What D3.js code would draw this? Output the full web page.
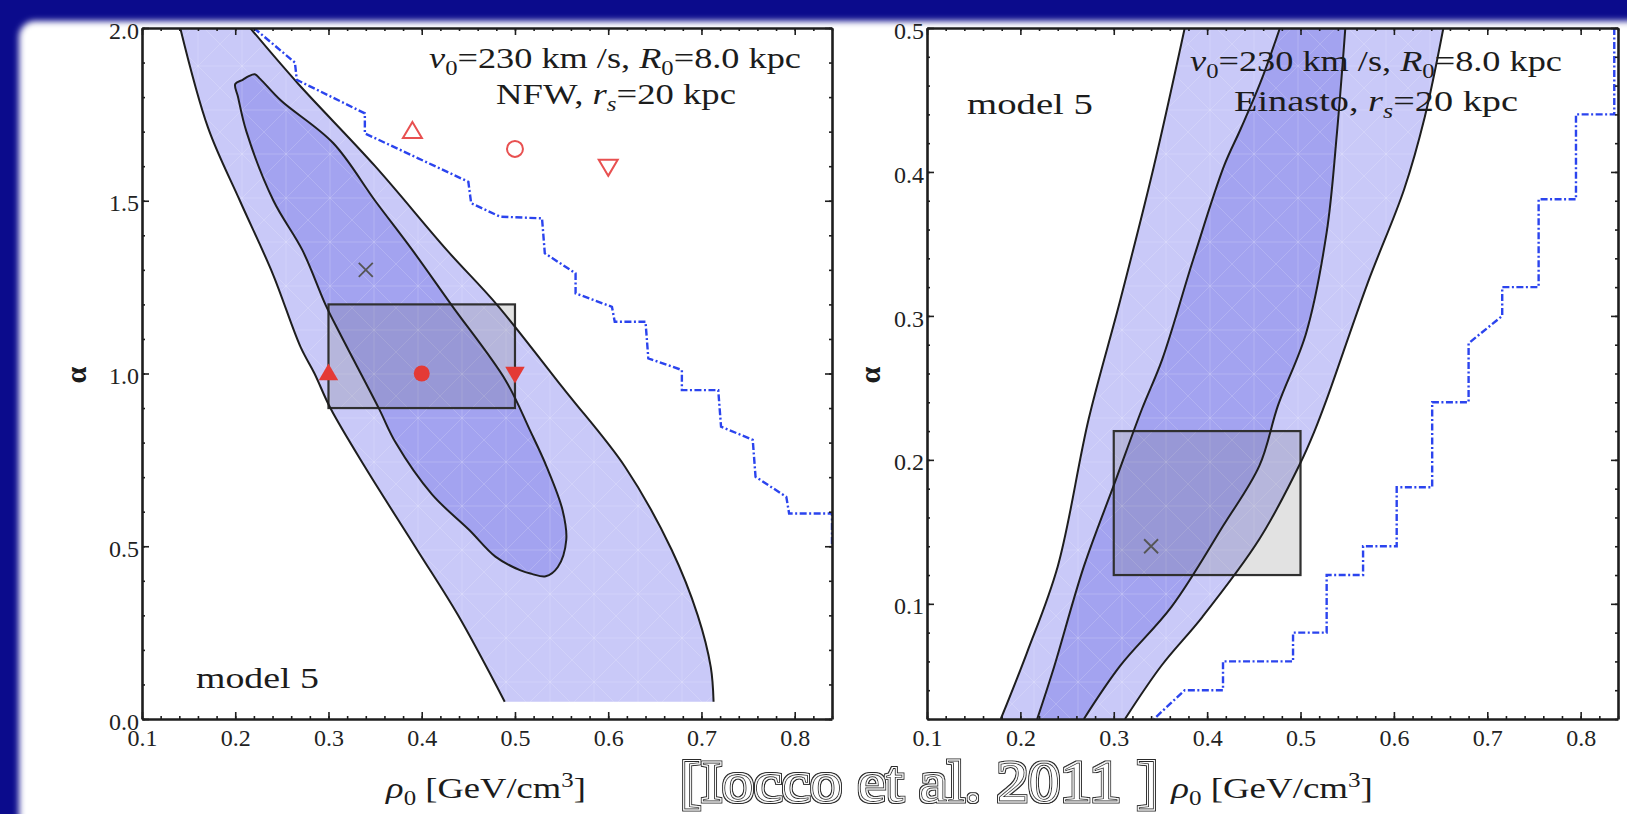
<!DOCTYPE html>
<html>
<head>
<meta charset="utf-8">
<script src="https://cdn.jsdelivr.net/npm/d3@7"></script>
<style>
  html, body { margin: 0; padding: 0; background: #0b0b8c; }
  svg { display: block; }
</style>
</head>
<body>
<svg id="chart" width="1627" height="814"></svg>
<script>
// ---------------- data ----------------
const xTicks = [0.1, 0.2, 0.3, 0.4, 0.5, 0.6, 0.7, 0.8];
const yTicksNFW = [0.0, 0.5, 1.0, 1.5, 2.0];
const yTicksEin = [0.1, 0.2, 0.3, 0.4, 0.5];

// NFW panel: 2-sigma region, left and right edges (rho0, alpha), top to bottom
const nfwOuterLeft = [[0.141,2.0],[0.171,1.71],[0.205,1.50],[0.240,1.29],[0.270,1.077],[0.285,1.0],
  [0.302,0.90],[0.339,0.73],[0.395,0.49],[0.439,0.30],[0.489,0.05]];
const nfwOuterRight = [[0.216,2.0],[0.267,1.84],[0.350,1.60],[0.427,1.357],[0.481,1.198],[0.548,0.97],
  [0.562,0.923],[0.618,0.73],[0.668,0.49],[0.696,0.30],[0.710,0.15],[0.713,0.05]];
// NFW panel: 1-sigma region (closed)
const nfwInner = [[0.214,1.860],[0.221,1.866],[0.227,1.852],[0.249,1.79],[0.305,1.667],[0.350,1.50],
  [0.390,1.357],[0.432,1.198],[0.490,0.98],[0.516,0.836],[0.534,0.73],[0.551,0.605],[0.555,0.518],
  [0.546,0.44],[0.533,0.413],[0.518,0.42],[0.506,0.43],[0.479,0.47],[0.451,0.547],[0.411,0.65],
  [0.372,0.80],[0.354,0.899],[0.312,1.117],[0.297,1.198],[0.272,1.357],[0.241,1.50],[0.212,1.70],
  [0.203,1.80],[0.200,1.838],[0.208,1.850]];
// NFW panel: dash-dot bound
const nfwBound = [[0.22,2.0],[0.264,1.90],[0.266,1.85],[0.339,1.753],[0.339,1.695],[0.450,1.555],
  [0.453,1.493],[0.484,1.454],[0.529,1.449],[0.532,1.348],[0.565,1.29],[0.565,1.232],[0.604,1.193],
  [0.607,1.15],[0.640,1.15],[0.643,1.044],[0.679,1.01],[0.679,0.952],[0.718,0.952],[0.721,0.846],
  [0.755,0.808],[0.758,0.701],[0.791,0.643],[0.794,0.595],[0.84,0.595],[0.84,0.5]];
const nfwBest = [0.34, 1.3];
const nfwBoxRho = [0.3, 0.5];
const nfwBoxAlpha = [0.9, 1.2];
const markersFilled = [[0.3, 1.0, "up"], [0.4, 1.0, "circle"], [0.5, 1.0, "down"]];
const markersOpen = [[0.39, 1.7, "up"], [0.5, 1.65, "circle"], [0.6, 1.6, "down"]];

// Einasto panel: contour edges (rho0, alpha), top to bottom
const einOuterLeft = [[0.376,0.5],[0.343,0.404],[0.307,0.311],[0.273,0.228],[0.240,0.126],
  [0.207,0.066],[0.179,0.02]];
const einInnerLeft = [[0.478,0.5],[0.457,0.462],[0.436,0.43],[0.418,0.404],[0.385,0.339],[0.352,0.27],
  [0.330,0.235],[0.301,0.184],[0.268,0.126],[0.236,0.056],[0.218,0.02]];
const einInnerRight = [[0.548,0.5],[0.539,0.427],[0.528,0.358],[0.506,0.288],[0.476,0.238],
  [0.456,0.196],[0.417,0.154],[0.362,0.098],[0.307,0.057],[0.268,0.02]];
const einOuterRight = [[0.653,0.5],[0.633,0.438],[0.611,0.388],[0.572,0.323],[0.528,0.242],
  [0.515,0.22],[0.500,0.198],[0.456,0.145],[0.395,0.091],[0.351,0.057],[0.312,0.02]];
const einBound = [[0.836,0.5],[0.836,0.44],[0.795,0.44],[0.795,0.381],[0.755,0.381],[0.755,0.32],
  [0.716,0.32],[0.716,0.30],[0.680,0.281],[0.680,0.24],[0.641,0.24],[0.641,0.181],[0.603,0.181],
  [0.603,0.14],[0.567,0.14],[0.567,0.12],[0.528,0.12],[0.528,0.08],[0.492,0.08],[0.492,0.06],
  [0.417,0.06],[0.417,0.04],[0.376,0.04],[0.343,0.02]];
const einBest = [0.34, 0.14];
const einBoxRho = [0.3, 0.5];
const einBoxAlpha = [0.12, 0.22];

// ---------------- style ----------------
const W = 1627, H = 814;
const FONT = "'Liberation Serif', 'Times New Roman', serif";
const C_LIGHT = "#c9c9f8", C_DARK = "#a3a3f0", C_LINE = "#1e1e1e";
const C_BOUND = "#2b44ee", C_RED = "#e43a36";

const svg = d3.select("#chart");
const defs = svg.append("defs");
defs.append("filter").attr("id", "soft").attr("x", -0.05).attr("y", -0.05).attr("width", 1.1).attr("height", 1.1)
  .append("feGaussianBlur").attr("stdDeviation", 3);
// faint plotting mesh seen inside the shaded regions
const mesh = defs.append("pattern").attr("id", "mesh").attr("patternUnits", "userSpaceOnUse")
  .attr("width", 44).attr("height", 44);
mesh.append("path").attr("d", "M0,0L44,44M44,0L0,44M22,0V44M0,22H44")
  .attr("stroke", "#ffffff").attr("stroke-width", 1).attr("stroke-opacity", 0.16).attr("fill", "none");
// double-outline lettering for the citation
const eng = defs.append("filter").attr("id", "engrave").attr("x", -0.05).attr("y", -0.2)
  .attr("width", 1.1).attr("height", 1.4);
eng.append("feMorphology").attr("in", "SourceAlpha").attr("operator", "dilate").attr("radius", 1.9).attr("result", "d1");
eng.append("feFlood").attr("flood-color", "#2a2a2a").attr("result", "dark");
eng.append("feComposite").attr("in", "dark").attr("in2", "d1").attr("operator", "in").attr("result", "outer");
eng.append("feMorphology").attr("in", "SourceAlpha").attr("operator", "dilate").attr("radius", 1.15).attr("result", "d2");
eng.append("feFlood").attr("flood-color", "#ffffff").attr("result", "white");
eng.append("feComposite").attr("in", "white").attr("in2", "d2").attr("operator", "in").attr("result", "ring");
const engMerge = eng.append("feMerge");
["outer", "ring", "SourceGraphic"].forEach(n => engMerge.append("feMergeNode").attr("in", n));

// slide background
svg.append("rect").attr("width", W).attr("height", H).attr("fill", "#0b0b8c");
svg.append("rect").attr("x", 19).attr("y", 21).attr("width", W + 40).attr("height", H + 40)
  .attr("rx", 16).attr("fill", "#ffffff").attr("filter", "url(#soft)");

// custom marker shapes
const triUp = { draw(c, s) { const w = Math.sqrt(s), h = w * 0.85;
  c.moveTo(0, -h * 0.6); c.lineTo(w / 2, h * 0.4); c.lineTo(-w / 2, h * 0.4); c.closePath(); } };
const triDown = { draw(c, s) { const w = Math.sqrt(s), h = w * 0.85;
  c.moveTo(0, h * 0.6); c.lineTo(w / 2, -h * 0.4); c.lineTo(-w / 2, -h * 0.4); c.closePath(); } };
const shapeOf = k => k === "up" ? triUp : k === "down" ? triDown : d3.symbolCircle;

// text with italic / sub / sup runs; optionally stretched horizontally to a width
function richText(g, x, y, parts, size, anchor, width) {
  const t = g.append("text").attr("x", x).attr("y", y).attr("text-anchor", anchor || "middle")
    .attr("font-family", FONT).attr("font-size", size).attr("fill", "#1c1c1c");
  let shift = 0;
  parts.forEach(p => {
    const ts = t.append("tspan").text(p.t);
    if (p.i) ts.attr("font-style", "italic");
    if (p.b) ts.attr("font-weight", "bold");
    const target = p.sub ? size * 0.24 : p.sup ? -size * 0.38 : 0;
    if (target !== shift) { ts.attr("dy", target - shift); shift = target; }
    if (p.sub || p.sup) ts.attr("font-size", size * 0.68);
  });
  if (width) {
    const k = width / t.node().getBBox().width;
    t.attr("transform", `translate(${x},0) scale(${k},1) translate(${-x},0)`);
  }
  return t;
}

function panel(opt) {
  const x = d3.scaleLinear().domain([0.1, 0.84]).range([opt.left, opt.right]);
  const y = d3.scaleLinear().domain(opt.yDomain).range([opt.bottom, opt.top]);
  const g = svg.append("g");
  const clipId = "clip" + opt.id;
  defs.append("clipPath").attr("id", clipId).append("rect")
    .attr("x", opt.left).attr("y", opt.top).attr("width", opt.right - opt.left).attr("height", opt.bottom - opt.top);
  const line = d3.line().x(d => x(d[0])).y(d => y(d[1])).curve(d3.curveCatmullRom.alpha(0.5));
  const band = (a, b) => line(a) + line(b.slice().reverse()).replace(/^M/, "L") + "Z";
  return { x, y, g, clip: `url(#${clipId})`, line, band };
}

function drawAxes(P, yMajor, yMinorStep) {
  const { x, y, g } = P;
  const [x0, x1] = x.range(), [y0, y1] = y.range();
  const xMinor = d3.range(0.1, 0.8401, 0.02);
  const [ya, yb] = y.domain();
  const yMinor = d3.range(ya, yb + 1e-6, yMinorStep);
  const ax = g.append("g").attr("class", "axes");
  const style = s => {
    s.selectAll(".domain").attr("stroke", C_LINE).attr("stroke-width", 2.6);
    s.selectAll(".tick line").attr("stroke", C_LINE).attr("stroke-width", 1.6);
    s.selectAll("text").attr("font-family", FONT).attr("font-size", 24).attr("fill", "#222");
  };
  const noText = s => s.selectAll("text").remove();
  const minor = (axis, tr) => ax.append("g").attr("transform", tr)
    .call(axis.tickSize(-3).tickFormat("")).call(s => { s.select(".domain").remove(); style(s); noText(s); });
  minor(d3.axisBottom(x).tickValues(xMinor), `translate(0,${y0})`);
  minor(d3.axisTop(x).tickValues(xMinor), `translate(0,${y1})`);
  minor(d3.axisLeft(y).tickValues(yMinor), `translate(${x0},0)`);
  minor(d3.axisRight(y).tickValues(yMinor), `translate(${x1},0)`);

  ax.append("g").attr("transform", `translate(0,${y0})`)
    .call(d3.axisBottom(x).tickValues(xTicks).tickSizeInner(-7).tickSizeOuter(0).tickFormat(d3.format(".1f")))
    .call(style).call(s => s.selectAll("text").attr("y", 10).attr("dy", "0.71em"));
  ax.append("g").attr("transform", `translate(0,${y1})`)
    .call(d3.axisTop(x).tickValues(xTicks).tickSizeInner(-7).tickSizeOuter(0).tickFormat(""))
    .call(style).call(noText);
  ax.append("g").attr("transform", `translate(${x0},0)`)
    .call(d3.axisLeft(y).tickValues(yMajor).tickSizeInner(-7).tickSizeOuter(0).tickFormat(d3.format(".1f")))
    .call(style).call(s => s.selectAll("text").attr("x", -3).attr("dy", "0.42em"));
  ax.append("g").attr("transform", `translate(${x1},0)`)
    .call(d3.axisRight(y).tickValues(yMajor).tickSizeInner(-7).tickSizeOuter(0).tickFormat(""))
    .call(style).call(noText);
}

function drawBox(P, rho, alpha) {
  P.g.append("rect")
    .attr("x", P.x(rho[0])).attr("y", P.y(alpha[1]))
    .attr("width", P.x(rho[1]) - P.x(rho[0])).attr("height", P.y(alpha[0]) - P.y(alpha[1]))
    .attr("fill", "#6e6e6e").attr("fill-opacity", 0.2)
    .attr("stroke", "#303030").attr("stroke-width", 2.2);
}
function drawCross(P, pt) {
  const cx = P.x(pt[0]), cy = P.y(pt[1]), r = 7;
  P.g.append("path").attr("d", `M${cx - r},${cy - r}L${cx + r},${cy + r}M${cx - r},${cy + r}L${cx + r},${cy - r}`)
    .attr("stroke", "#555").attr("stroke-width", 1.8).attr("fill", "none");
}
function drawBound(P, pts) {
  P.g.append("path").attr("clip-path", P.clip)
    .attr("d", d3.line().x(d => P.x(d[0])).y(d => P.y(d[1]))(pts))
    .attr("fill", "none").attr("stroke", C_BOUND).attr("stroke-width", 2.4)
    .attr("stroke-dasharray", "7,2.5,2,2.5");
}
function shade(body, d, color) {
  body.append("path").attr("d", d).attr("fill", color);
  body.append("path").attr("d", d).attr("fill", "url(#mesh)");
}
const rhoTitle = [{ t: "ρ", i: 1 }, { t: "0", sub: 1 }, { t: " [GeV/cm" }, { t: "3", sup: 1 }, { t: "]" }];
const TXT = 30;

// ---------------- NFW panel ----------------
const A = panel({ id: "nfw", left: 142, right: 832, top: 28, bottom: 719, yDomain: [0, 2] });
{
  const body = A.g.append("g").attr("clip-path", A.clip);
  const innerLine = d3.line().x(d => A.x(d[0])).y(d => A.y(d[1])).curve(d3.curveCatmullRomClosed.alpha(0.5));
  shade(body, A.band(nfwOuterLeft, nfwOuterRight), C_LIGHT);
  shade(body, innerLine(nfwInner), C_DARK);
  drawBox(A, nfwBoxRho, nfwBoxAlpha);
  const lines = A.g.append("g").attr("clip-path", A.clip).attr("fill", "none")
    .attr("stroke", C_LINE).attr("stroke-width", 2);
  lines.append("path").attr("d", A.line(nfwOuterLeft));
  lines.append("path").attr("d", A.line(nfwOuterRight));
  lines.append("path").attr("d", innerLine(nfwInner));
  drawBound(A, nfwBound);
  drawCross(A, nfwBest);
  A.g.selectAll(".mf").data(markersFilled).join("path")
    .attr("transform", d => `translate(${A.x(d[0])},${A.y(d[1])})`)
    .attr("d", d => d3.symbol(shapeOf(d[2]), d[2] === "circle" ? 200 : 380)())
    .attr("fill", C_RED);
  A.g.selectAll(".mo").data(markersOpen).join("path")
    .attr("transform", d => `translate(${A.x(d[0])},${A.y(d[1])})`)
    .attr("d", d => d3.symbol(shapeOf(d[2]), d[2] === "circle" ? 200 : 360)())
    .attr("fill", "none").attr("stroke", "#e85050").attr("stroke-width", 2);

  richText(A.g, 615, 68, [{ t: "v", i: 1 }, { t: "0", sub: 1 }, { t: "=230 km /s, " }, { t: "R", i: 1 },
    { t: "0", sub: 1 }, { t: "=8.0 kpc" }], TXT, "middle", 372);
  richText(A.g, 616, 104, [{ t: "NFW, " }, { t: "r", i: 1 }, { t: "s", i: 1, sub: 1 }, { t: "=20 kpc" }], TXT, "middle", 240);
  richText(A.g, 196, 688, [{ t: "model 5" }], TXT, "start", 123);
  drawAxes(A, yTicksNFW, 0.1);
  richText(svg, 486, 798, rhoTitle, TXT, "middle", 201);
  richText(svg, 0, 0, [{ t: "α", b: 1 }], 30).attr("transform", "translate(86,375) rotate(-90)");
}

// ---------------- Einasto panel ----------------
const B = panel({ id: "ein", left: 927, right: 1618, top: 28, bottom: 719, yDomain: [0.02, 0.5] });
{
  const body = B.g.append("g").attr("clip-path", B.clip);
  shade(body, B.band(einOuterLeft, einOuterRight), C_LIGHT);
  shade(body, B.band(einInnerLeft, einInnerRight), C_DARK);
  richText(B.g, 1376, 71, [{ t: "v", i: 1 }, { t: "0", sub: 1 }, { t: "=230 km /s, " }, { t: "R", i: 1 },
    { t: "0", sub: 1 }, { t: "=8.0 kpc" }], TXT, "middle", 372);
  richText(B.g, 1376, 111, [{ t: "Einasto, " }, { t: "r", i: 1 }, { t: "s", i: 1, sub: 1 }, { t: "=20 kpc" }], TXT, "middle", 284);
  richText(B.g, 967, 114, [{ t: "model 5" }], TXT, "start", 126);
  drawBox(B, einBoxRho, einBoxAlpha);
  const lines = B.g.append("g").attr("clip-path", B.clip).attr("fill", "none")
    .attr("stroke", C_LINE).attr("stroke-width", 2);
  [einOuterLeft, einInnerLeft, einInnerRight, einOuterRight].forEach(c => lines.append("path").attr("d", B.line(c)));
  drawBound(B, einBound);
  drawCross(B, einBest);
  drawAxes(B, yTicksEin, 0.02);
  richText(svg, 1272, 798, rhoTitle, TXT, "middle", 203);
  richText(svg, 0, 0, [{ t: "α", b: 1 }], 30).attr("transform", "translate(880,375) rotate(-90)");
}

// ---------------- citation ----------------
svg.append("text").attr("x", 680).attr("y", 801).attr("font-family", FONT)
  .attr("font-size", 56).attr("textLength", 478).attr("lengthAdjust", "spacingAndGlyphs")
  .attr("fill", "#ffffff").attr("stroke", "#2a2a2a").attr("stroke-width", 0.8)
  .attr("filter", "url(#engrave)")
  .text("[Iocco et al. 2011 ]");
</script>
</body>
</html>
